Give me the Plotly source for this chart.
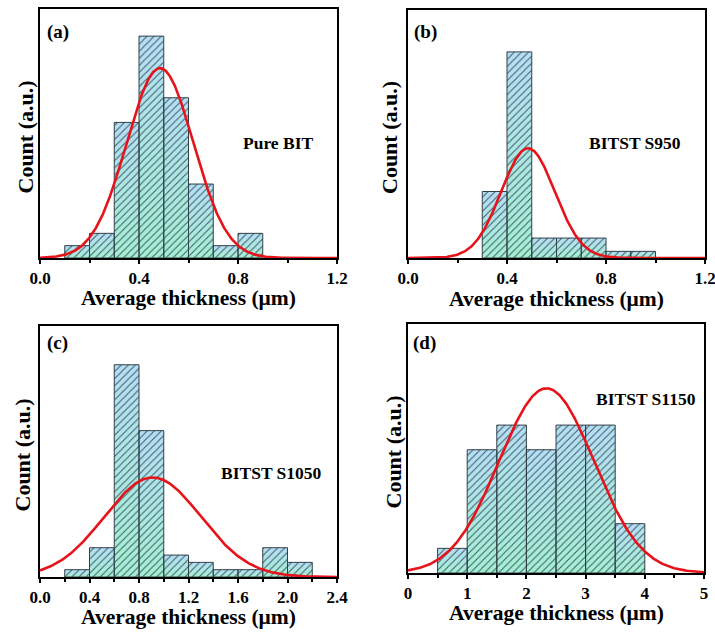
import numpy as np
import plotly.graph_objects as go

# ---------------- data ----------------
# (a) Pure BIT
a_edges = [0.1, 0.2, 0.3, 0.4, 0.5, 0.6, 0.7, 0.8, 0.9]
a_counts = [1, 2, 11, 18, 13, 6, 1, 2]
a_fit = dict(amp=15.4, mu=0.485, sigma=0.135)

# (b) BITST S950
b_edges = [0.3, 0.4, 0.5, 0.6, 0.7, 0.8, 0.9, 1.0]
b_counts = [10, 31, 3, 3, 3, 1, 1]
b_fit = dict(amp=16.5, mu=0.485, sigma=0.108)

# (c) BITST S1050
c_edges = [0.2, 0.4, 0.6, 0.8, 1.0, 1.2, 1.4, 1.6, 1.8, 2.0, 2.2]
c_counts = [1, 4, 29, 20, 3, 2, 1, 1, 4, 2]
c_fit = dict(amp=13.6, mu=0.91, sigma=0.39)

# (d) BITST S1150
d_edges = [0.5, 1.0, 1.5, 2.0, 2.5, 3.0, 3.5, 4.0]
d_counts = [1, 5, 6, 5, 6, 6, 2]
d_fit = dict(amp=7.49, mu=2.34, sigma=0.80)

panel_letters = ["(a)", "(b)", "(c)", "(d)"]
sample_names = ["Pure BIT", "BITST S950", "BITST S1050", "BITST S1150"]
x_title = "Average thickness (μm)"
y_title = "Count (a.u.)"

# ---------------- styling ----------------
W, H = 715, 632
FONT = "Liberation Serif"
BLUE = "rgb(182,222,246)"
GREEN = "rgb(164,240,210)"
HATCH = "rgb(62,88,98)"
EDGE = "rgb(50,64,72)"
RED = "rgb(230,20,26)"

def px(x):
    return x / W

def py(y):
    return 1 - y / H

panels = [
    dict(edges=a_edges, counts=a_counts, fit=a_fit, box=(40, 337, 9, 258),
         xr=[0, 1.2], yr=[0, 20.2], dtick=0.4, minor=0.2, fmt=".1f",
         name_xy=(278, 143), letter_xy=(45, 32), ytitle_x=25, xtitle_y=298),
    dict(edges=b_edges, counts=b_counts, fit=b_fit, box=(408, 705, 10, 258),
         xr=[0, 1.2], yr=[0, 37.3], dtick=0.4, minor=0.2, fmt=".1f",
         name_xy=(635, 143), letter_xy=(412, 32), ytitle_x=389, xtitle_y=299),
    dict(edges=c_edges, counts=c_counts, fit=c_fit, box=(40, 337, 326, 577),
         xr=[0, 2.4], yr=[0, 34.3], dtick=0.4, minor=0.2, fmt=".1f",
         name_xy=(271, 473), letter_xy=(45, 343), ytitle_x=22, xtitle_y=617),
    dict(edges=d_edges, counts=d_counts, fit=d_fit, box=(408, 704, 324, 573),
         xr=[0, 5], yr=[0, 10.1], dtick=1, minor=0.5, fmt="d",
         name_xy=(646, 399), letter_xy=(411, 343), ytitle_x=393, xtitle_y=613),
]

fig = go.Figure()
annotations = []

for i, p in enumerate(panels):
    k = "" if i == 0 else str(i + 1)
    xa, ya = "x" + k, "y" + k
    edges = list(p["edges"])
    counts = list(p["counts"])

    # gradient fill of each bar (one trace per bar so each bar has its own gradient)
    for x0, x1, h in zip(edges[:-1], edges[1:], counts):
        fig.add_trace(go.Scatter(
            x=[x0, x0, x1, x1, x0], y=[0, h, h, 0, 0],
            mode="lines", line=dict(width=0), fill="toself",
            fillgradient=dict(type="vertical",
                              colorscale=[[0, GREEN], [1, BLUE]]),
            hoverinfo="skip", showlegend=False, xaxis=xa, yaxis=ya))

    # hatching + outline of all bars
    hx, hy = [], []
    for x0, x1, h in zip(edges[:-1], edges[1:], counts):
        hx += [x0, x0, x1, x1, x0, None]
        hy += [0, h, h, 0, 0, None]
    fig.add_trace(go.Scatter(
        x=hx, y=hy, mode="lines", fill="toself",
        fillcolor="rgba(0,0,0,0)",
        fillpattern=dict(shape="/", fgcolor=HATCH, bgcolor="rgba(0,0,0,0)",
                         size=5, solidity=0.2),
        line=dict(color=EDGE, width=1),
        hoverinfo="skip", showlegend=False, xaxis=xa, yaxis=ya))

    # gaussian fit
    f = p["fit"]
    xs = np.linspace(p["xr"][0], p["xr"][1], 400)
    ys = f["amp"] * np.exp(-0.5 * ((xs - f["mu"]) / f["sigma"]) ** 2)
    fig.add_trace(go.Scatter(x=xs, y=ys, mode="lines",
                             line=dict(color=RED, width=2.6),
                             showlegend=False, xaxis=xa, yaxis=ya))

    L, R, T, B = p["box"]
    xax = dict(domain=[px(L), px(R)], range=p["xr"], anchor=ya,
               automargin=False, ticklabeloverflow="allow",
               showline=True, linecolor="black", linewidth=2, mirror=True,
               showgrid=False, zeroline=False,
               ticks="outside", ticklen=4, tickwidth=1.5, tickcolor="black",
               dtick=p["dtick"], tick0=0, tickformat=p["fmt"],
               tickfont=dict(family=FONT, size=17, color="black", weight="bold"),
               minor=dict(ticks="outside", ticklen=3, tickwidth=1.5,
                          tickcolor="black", dtick=p["minor"], tick0=0,
                          showgrid=False))
    yax = dict(domain=[py(B), py(T)], range=p["yr"], anchor=xa,
               automargin=False,
               showline=True, linecolor="black", linewidth=2, mirror=True,
               showgrid=False, zeroline=False, showticklabels=False,
               ticks="")
    fig.update_layout(**{"xaxis" + k: xax, "yaxis" + k: yax})

    annotations.append(dict(text=panel_letters[i], xref="paper", yref="paper",
                            x=px(p["letter_xy"][0]), y=py(p["letter_xy"][1]),
                            xanchor="left", yanchor="middle", showarrow=False,
                            font=dict(family=FONT, size=19, color="black",
                                      weight="bold")))
    annotations.append(dict(text=sample_names[i], xref="paper", yref="paper",
                            x=px(p["name_xy"][0]), y=py(p["name_xy"][1]),
                            xanchor="center", yanchor="middle", showarrow=False,
                            font=dict(family=FONT, size=17.5, color="black",
                                      weight="bold")))
    annotations.append(dict(text=x_title, xref="paper", yref="paper",
                            x=px((L + R) / 2), y=py(p["xtitle_y"]),
                            xanchor="center", yanchor="middle", showarrow=False,
                            font=dict(family=FONT, size=21.5, color="black",
                                      weight="bold")))
    annotations.append(dict(text=y_title, xref="paper", yref="paper",
                            x=px(p["ytitle_x"]), y=py((T + B) / 2 + 4),
                            xanchor="center", yanchor="middle", showarrow=False,
                            textangle=-90,
                            font=dict(family=FONT, size=22, color="black",
                                      weight="bold")))

fig.update_layout(template="none", width=W, height=H,
                  margin=dict(l=0, r=0, t=0, b=0, autoexpand=False),
                  paper_bgcolor="white", plot_bgcolor="white",
                  annotations=annotations, font=dict(family=FONT))

fig.write_html("out.html",
               config={"displayModeBar": False},
               post_script="document.body.style.margin='0';"
                           "document.body.style.overflow='hidden';")
